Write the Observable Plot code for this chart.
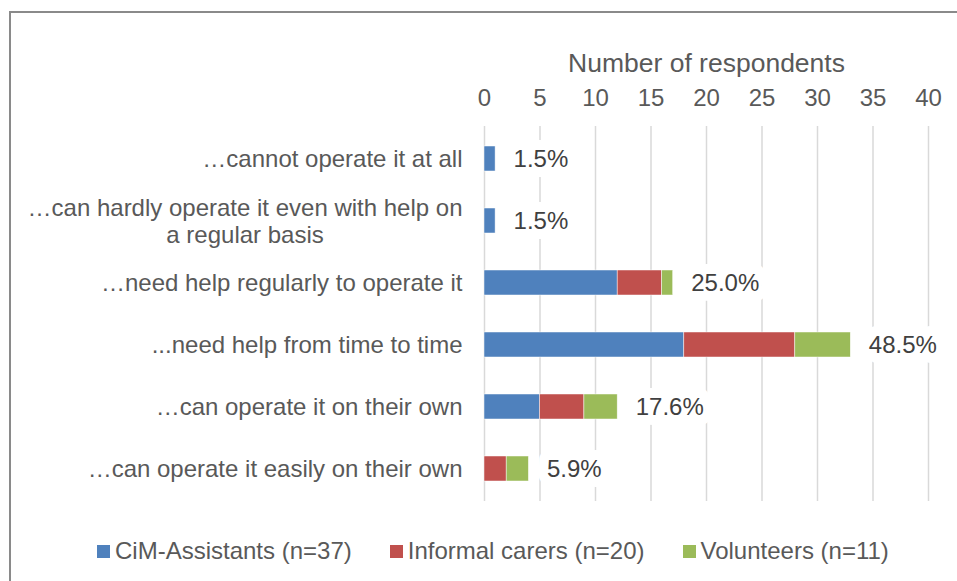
<!DOCTYPE html>
<html>
<head>
<meta charset="utf-8">
<script src="https://cdn.jsdelivr.net/npm/d3@7"></script>
<script src="https://cdn.jsdelivr.net/npm/@observablehq/plot@0.6"></script>
<style>
  html, body { margin: 0; padding: 0; background: #fff; overflow: hidden; }
  body { width: 957px; height: 581px; position: relative; font-family: "Liberation Sans", Arial, sans-serif; }
  #frame { position: absolute; left: 9px; top: 11px; width: 1000px; height: 700px;
           border-left: 2px solid #8a8a8a; border-top: 2px solid #8a8a8a; z-index: 0; }
  #chart { position: relative; z-index: 1; }
  #chart svg { display: block; background: transparent; }
  #legend { display: flex; align-items: center; height: 42px; padding-left: 97px; gap: 38px;
            font-size: 24px; color: #595959; }
  .item { display: flex; align-items: center; white-space: nowrap; }
  .sw { width: 13px; height: 13px; margin-right: 5px; display: inline-block; }
</style>
</head>
<body>
<div id="frame"></div>
<div id="chart"></div>
<script>
const categories = [
  "…cannot operate it at all",
  "…can hardly operate it even with help on\na regular basis",
  "…need help regularly to operate it",
  "...need help from time to time",
  "…can operate it on their own",
  "…can operate it easily on their own"
];
const groups = ["CiM-Assistants (n=37)", "Informal carers (n=20)", "Volunteers (n=11)"];
const groupColors = ["#4F81BD", "#C0504D", "#9BBB59"];
const cimValues = [1, 1, 12, 18, 5, 0];
const informalValues = [0, 0, 4, 10, 4, 2];
const volunteerValues = [0, 0, 1, 5, 3, 2];
const percentLabels = ["1.5%", "1.5%", "25.0%", "48.5%", "17.6%", "5.9%"];
const xTicks = [0, 5, 10, 15, 20, 25, 30, 35, 40];
const axisTitle = "Number of respondents";

const series = [cimValues, informalValues, volunteerValues];
const table = [];
categories.forEach((c, i) => {
  groups.forEach((g, j) => table.push({category: c, group: g, value: series[j][i]}));
});
const totals = categories.map((c, i) => ({
  category: c,
  total: cimValues[i] + informalValues[i] + volunteerValues[i],
  label: percentLabels[i]
}));

const FONT = "Liberation Sans, Arial, sans-serif";
const wrapped = categories.filter(c => c.includes("\n"));
const single = categories.filter(c => !c.includes("\n"));
const ctx = document.createElement("canvas").getContext("2d");
ctx.font = "24px 'Liberation Sans'";
const firstLineWidth = wrapped.length ? ctx.measureText(wrapped[0].split("\n")[0]).width : 0;

const chart = Plot.plot({
  width: 957,
  height: 530,
  marginLeft: 484,
  marginRight: 29,
  marginTop: 126,
  marginBottom: 29,
  style: {fontFamily: FONT, background: "transparent", overflow: "visible"},
  x: {domain: [0, 40], axis: null},
  y: {domain: categories, paddingInner: 0.6, paddingOuter: 0.3, axis: null},
  color: {domain: groups, range: groupColors},
  marks: [
    Plot.gridX(xTicks, {stroke: "#d9d9d9", strokeOpacity: 1, strokeWidth: 1.5}),
    Plot.axisX({anchor: "top", ticks: xTicks, tickSize: 0, tickPadding: 21, fontSize: 24, fill: "#595959", label: null}),
    Plot.text([axisTitle], {frameAnchor: "top", text: d => d, dy: -63, lineAnchor: "middle", fontSize: 26.5, fill: "#595959"}),
    Plot.barX(table, Plot.stackX({x: "value", y: "category", fill: "group", stroke: "white", strokeWidth: 0.6, strokeOpacity: 0.8})),
    Plot.text(totals, {x: "total", y: "category", text: "label", dx: 18, textAnchor: "start", lineAnchor: "middle",
      fontSize: 24, fill: "#404040", stroke: "white", strokeWidth: 20}),
    Plot.text(single, {y: d => d, text: d => d, frameAnchor: "left", dx: -22, textAnchor: "end", lineAnchor: "middle",
      fontSize: 24, fill: "#595959"}),
    Plot.text(wrapped, {y: d => d, text: d => d, frameAnchor: "left", dx: -22 - firstLineWidth / 2, textAnchor: "middle",
      lineAnchor: "middle", lineHeight: 1.13, fontSize: 24, fill: "#595959"})
  ]
});
document.getElementById("chart").appendChild(chart);

const legend = document.createElement("div");
legend.id = "legend";
groups.forEach((g, i) => {
  const item = document.createElement("span");
  item.className = "item";
  const sw = document.createElement("span");
  sw.className = "sw";
  sw.style.background = groupColors[i];
  item.appendChild(sw);
  item.appendChild(document.createTextNode(g));
  legend.appendChild(item);
});
document.getElementById("chart").appendChild(legend);
</script>
</body>
</html>
